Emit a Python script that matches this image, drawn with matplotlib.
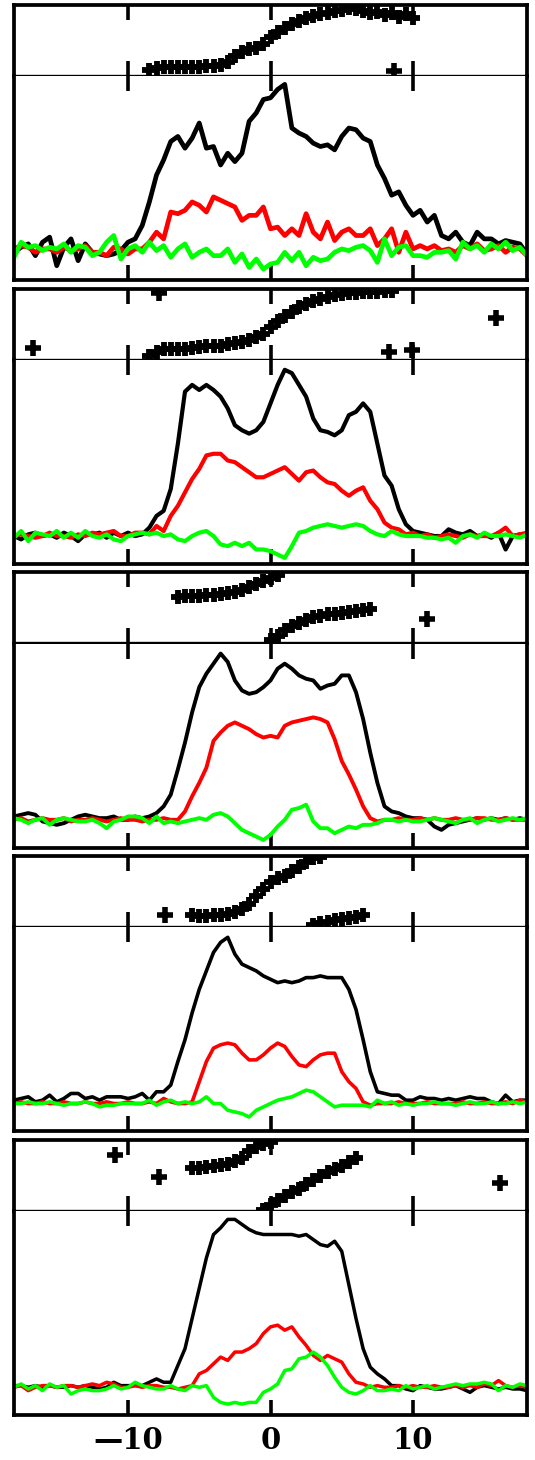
import numpy as np
import matplotlib
matplotlib.use("Agg")
import matplotlib.pyplot as plt

# pulse phase grid (degrees of longitude), 0.5 deg bins
phase = np.arange(-18, 18.25, 0.5)

# normalised total intensity (black), linear (red), circular (green)
I1 = [0.0, 0.03, 0.05, -0.02, 0.06, 0.09, -0.08, 0.03, 0.08, -0.05, 0.05, 0.0,
      -0.01, -0.02, -0.01, 0.01, 0.06, 0.08, 0.16, 0.30,
      0.46, 0.55, 0.66, 0.69, 0.62, 0.68, 0.77, 0.62,
      0.63, 0.52, 0.59, 0.54, 0.59, 0.78, 0.83, 0.91,
      0.92, 0.97, 1.0, 0.74, 0.71, 0.69, 0.65, 0.63,
      0.64, 0.61, 0.69, 0.74, 0.73, 0.68, 0.66, 0.52,
      0.44, 0.34, 0.36, 0.28, 0.22, 0.25, 0.18, 0.22,
      0.10,
      0.08, 0.12, 0.06, 0.04, 0.12, 0.08, 0.08, 0.05, 0.07, 0.06, 0.05, -0.01]
L1 = [0.02, 0.04, 0.03, 0.0, 0.02, 0.02, 0.0, 0.03, 0.01, 0.02, 0.04, 0.0,
      0.0, -0.02, 0.03, 0.02, -0.01, 0.02, 0.02, 0.06,
      0.12, 0.08, 0.24, 0.23, 0.25, 0.30, 0.28, 0.24,
      0.33, 0.31, 0.29, 0.27, 0.19, 0.22, 0.22, 0.27,
      0.14, 0.15, 0.10, 0.14, 0.10, 0.23, 0.12, 0.08,
      0.18, 0.07, 0.12, 0.14, 0.10, 0.10, 0.14, 0.04,
      0.08, 0.14, 0.0, 0.12, 0.02, 0.04, 0.02, 0.04,
      0.01,
      0.02, 0.0, 0.04, 0.02, 0.05, 0.01, 0.02, 0.04, 0.0, 0.03, 0.02, -0.02]
V1 = [-0.03, 0.06, 0.03, 0.04, 0.01, 0.03, 0.02, 0.05, 0.0, 0.04, 0.03, -0.02,
      0.0, 0.06, 0.1, -0.04, 0.02, 0.04, 0.0, 0.06,
      0.01, 0.04, -0.03, 0.02, 0.05, -0.03, 0.0, 0.02,
      -0.02, -0.02, 0.02, -0.06, -0.01, -0.09, -0.04, -0.10,
      -0.07, -0.06, 0.0, -0.05, 0.0, -0.08, -0.03, -0.05,
      -0.04, 0.0, 0.02, 0.01, 0.03, 0.04, 0.01, -0.06,
      0.08, -0.02, 0.03, 0.04, -0.02, -0.02, -0.03, 0.0,
      0.0,
      0.01, -0.04, 0.06, 0.02, 0.04, 0.0, 0.05, 0.02, 0.06, 0.01, 0.03, -0.02]

I2 = [0.0, -0.02, 0.01, 0.02, 0.0, 0.01, -0.01, 0.02, 0.0, -0.03, 0.01, 0.01,
      0.02, -0.01, 0.02, 0.0, 0.02, 0.0, 0.01, 0.05,
      0.12, 0.15, 0.28, 0.55, 0.86, 0.90, 0.87, 0.90,
      0.87, 0.83, 0.76, 0.66, 0.63, 0.61, 0.63, 0.68,
      0.79, 0.90, 0.99, 0.97, 0.90, 0.83, 0.70, 0.63,
      0.62, 0.60, 0.63, 0.72, 0.74, 0.79, 0.74, 0.55,
      0.36, 0.30, 0.16, 0.07, 0.03, 0.02, 0.01, 0.0,
      0.0,
      0.04, 0.02, 0.01, 0.03, 0.0, 0.01, -0.01, 0.02, -0.08, 0.0, 0.01, 0.0]
L2 = [0.0, 0.01, 0.0, -0.01, 0.0, 0.02, 0.0, 0.0, -0.01, 0.01, 0.0, 0.02,
      0.01, 0.02, 0.03, 0.0, 0.0, 0.02, 0.02, 0.01,
      0.06, 0.03, 0.12, 0.18, 0.26, 0.34, 0.40, 0.48,
      0.49, 0.49, 0.45, 0.44, 0.41, 0.38, 0.35, 0.35,
      0.37, 0.39, 0.41, 0.37, 0.33, 0.38, 0.39, 0.35,
      0.32, 0.31, 0.27, 0.24, 0.27, 0.29, 0.21, 0.16,
      0.08, 0.05, 0.04, 0.01, 0.02, 0.0, 0.01, -0.01,
      0.0,
      0.01, 0.0, -0.01, 0.01, 0.0, 0.0, 0.0, 0.02, 0.05, 0.0, 0.01, 0.02]
V2 = [-0.01, 0.03, -0.03, 0.02, 0.01, 0.0, 0.03, -0.01, 0.02, -0.01, 0.03, 0.0,
      -0.01, 0.01, -0.02, -0.03, 0.0, 0.01, 0.02, 0.01,
      0.02, 0.0, 0.01, -0.02, -0.03, 0.0, 0.02, 0.03,
      0.0, -0.05, -0.06, -0.04, -0.06, -0.04, -0.08, -0.08,
      -0.09, -0.11, -0.13, -0.06, 0.02, 0.03, 0.05, 0.06,
      0.07, 0.06, 0.05, 0.06, 0.07, 0.06, 0.03, 0.01,
      0.0, 0.03, 0.01, 0.0, 0.0, 0.0, -0.01, -0.01,
      -0.02,
      -0.01, -0.04, 0.0, 0.01, -0.01, 0.02, 0.0, 0.0, 0.01, 0.0, -0.01, 0.01]

I3 = [0.02, 0.03, 0.04, 0.03, -0.01, -0.02, -0.03, -0.02, 0.0, 0.02, 0.03, 0.02,
      0.01, 0.01, 0.02, 0.0, 0.0, 0.02, 0.01, 0.02,
      0.04, 0.08, 0.15, 0.30, 0.46, 0.64, 0.79, 0.87,
      0.93, 0.99, 0.94, 0.83, 0.77, 0.75, 0.76, 0.79,
      0.83, 0.90, 0.93, 0.90, 0.86, 0.84, 0.83, 0.78,
      0.80, 0.81, 0.86, 0.86, 0.76, 0.60, 0.40, 0.22,
      0.08, 0.05, 0.04, 0.02, 0.01, 0.01, 0.0, -0.04,
      -0.06,
      -0.03, -0.02, -0.01, 0.0, 0.01, 0.0, 0.01, 0.0, 0.01, 0.0, 0.01, 0.0]
L3 = [0.0, 0.01, -0.01, 0.0, 0.01, 0.0, 0.0, 0.01, -0.01, 0.0, 0.0, 0.01,
      0.0, -0.01, 0.0, 0.01, 0.0, 0.0, -0.01, 0.0,
      0.0, 0.01, 0.0, 0.0, 0.05, 0.14, 0.22, 0.31,
      0.47, 0.52, 0.56, 0.58, 0.56, 0.54, 0.51, 0.49,
      0.50, 0.49, 0.56, 0.58, 0.59, 0.60, 0.61, 0.60,
      0.58, 0.48, 0.35, 0.27, 0.18, 0.08, 0.01, -0.01,
      0.0, 0.0, 0.01, 0.0, 0.0, 0.01, 0.0, 0.01,
      0.0,
      0.0, 0.01, 0.0, 0.0, 0.01, 0.01, 0.0, 0.0, 0.01, 0.0, 0.0, 0.0]
V3 = [0.01, 0.0, -0.02, 0.0, 0.01, -0.03, 0.0, 0.01, 0.0, -0.01, -0.01, 0.0,
      -0.02, -0.05, -0.01, 0.0, 0.02, 0.02, 0.01, -0.02,
      0.02, -0.02, -0.01, -0.02, -0.01, 0.0, 0.01, 0.0,
      0.03, 0.04, 0.02, -0.02, -0.06, -0.08, -0.10, -0.12,
      -0.09, -0.04, 0.0, 0.06, 0.07, 0.09, -0.01, -0.05,
      -0.05, -0.08, -0.06, -0.04, -0.05, -0.03, -0.03, -0.02,
      0.0, 0.0, -0.01, 0.0, -0.01, -0.01, 0.0, 0.01,
      0.0,
      -0.01, -0.02, 0.0, 0.01, -0.02, 0.0, 0.01, -0.01, 0.0, 0.01, 0.0, 0.01]

I4 = [0.02, 0.03, 0.04, 0.01, 0.02, 0.05, 0.01, 0.03, 0.06, 0.06, 0.03, 0.04,
      0.02, 0.04, 0.04, 0.04, 0.03, 0.04, 0.06, 0.02,
      0.07, 0.07, 0.11, 0.25, 0.38, 0.54, 0.68, 0.79,
      0.90, 0.96, 0.99, 0.89, 0.83, 0.81, 0.79, 0.76,
      0.74, 0.72, 0.73, 0.72, 0.73, 0.75, 0.75, 0.76,
      0.75, 0.75, 0.75, 0.68, 0.56, 0.38, 0.19, 0.07,
      0.06, 0.05, 0.05, 0.02, 0.02, 0.04, 0.03, 0.03,
      0.02,
      0.03, 0.02, 0.03, 0.04, 0.03, 0.03, 0.01, 0.0, 0.05, 0.01, 0.02, 0.02]
L4 = [0.0, 0.01, 0.0, 0.0, 0.01, 0.0, 0.0, 0.01, 0.0, 0.0, 0.01, 0.0,
      0.0, 0.01, 0.0, 0.0, 0.01, 0.0, 0.0, 0.01,
      0.0, 0.03, 0.01, 0.0, 0.0, 0.01, 0.13, 0.25,
      0.33, 0.35, 0.36, 0.35, 0.30, 0.26, 0.26, 0.29,
      0.33, 0.36, 0.34, 0.28, 0.23, 0.22, 0.26, 0.29,
      0.30, 0.30, 0.19, 0.13, 0.09, 0.01, -0.01, 0.0,
      0.0, 0.0, 0.01, 0.0, 0.0, 0.0, 0.01, 0.0,
      0.0,
      0.0, 0.0, 0.01, 0.0, 0.0, 0.01, 0.0, 0.0, 0.01, 0.0, 0.02, 0.01]
V4 = [0.0, 0.0, 0.01, 0.0, 0.0, 0.01, 0.0, -0.01, 0.0, 0.0, 0.01, 0.0,
      -0.02, -0.01, -0.01, 0.0, 0.0, 0.0, 0.0, 0.02,
      -0.01, 0.01, 0.02, 0.0, 0.01, 0.0, 0.01, 0.04,
      0.0, 0.0, -0.04, -0.05, -0.06, -0.08, -0.04, -0.02,
      0.0, 0.02, 0.03, 0.04, 0.06, 0.08, 0.07, 0.04,
      0.01, -0.02, -0.01, -0.01, -0.01, -0.01, -0.02, 0.02,
      0.0, 0.01, -0.01, 0.0, -0.01, 0.0, 0.0, 0.01,
      0.0,
      0.0, -0.01, 0.0, 0.01, 0.0, 0.0, 0.01, 0.0, 0.0, 0.01, 0.0, 0.01]

I5 = [0.01, 0.01, 0.0, 0.01, 0.0, 0.01, 0.0, 0.0, 0.01, 0.0, 0.01, 0.0,
      -0.01, 0.0, 0.03, 0.01, 0.01, 0.01, 0.01, 0.03,
      0.05, 0.03, 0.03, 0.13, 0.23, 0.41, 0.59, 0.77,
      0.91, 0.95, 1.0, 1.0, 0.97, 0.94, 0.92, 0.91,
      0.91, 0.91, 0.91, 0.91, 0.90, 0.91, 0.88, 0.85,
      0.84, 0.87, 0.81, 0.61, 0.41, 0.23, 0.12, 0.08,
      0.05, 0.01, 0.01, -0.01, -0.02, 0.01, 0.0, -0.01,
      -0.01,
      0.0, 0.01, -0.01, -0.03, 0.0, 0.01, 0.0, -0.01, 0.0, -0.01, -0.01, -0.02]
L5 = [0.0, 0.01, -0.02, 0.0, 0.01, 0.01, 0.0, 0.01, 0.01, 0.0, 0.01, 0.02,
      0.01, 0.03, 0.02, 0.0, 0.0, 0.01, 0.0, 0.01,
      0.01, 0.0, 0.0, -0.01, 0.0, 0.01, 0.08, 0.10,
      0.14, 0.18, 0.16, 0.21, 0.21, 0.23, 0.26, 0.32,
      0.36, 0.37, 0.34, 0.36, 0.30, 0.25, 0.19, 0.16,
      0.19, 0.17, 0.15, 0.08, 0.03, 0.02, 0.0, 0.01,
      0.0, 0.0, 0.01, 0.0, 0.01, 0.0, 0.0, 0.01,
      0.0,
      0.0, 0.01, 0.0, 0.01, 0.0, 0.02, 0.01, 0.04, 0.01, 0.0, 0.01, 0.0]
V5 = [0.0, 0.02, -0.01, 0.01, -0.02, 0.02, 0.0, 0.01, -0.04, -0.02, -0.01, -0.02,
      -0.02, -0.01, 0.01, -0.01, 0.0, 0.03, 0.01, 0.0,
      -0.01, -0.01, 0.01, -0.01, -0.02, 0.01, 0.0, 0.01,
      -0.06, -0.09, -0.10, -0.09, -0.10, -0.09, -0.09, -0.03,
      -0.01, 0.02, 0.10, 0.11, 0.17, 0.18, 0.21, 0.18,
      0.13, 0.06, 0.0, -0.03, -0.04, -0.02, 0.01, -0.02,
      -0.02, -0.01, -0.02, 0.01, -0.01, 0.0, 0.01, -0.01,
      0.0,
      0.01, 0.02, 0.01, 0.02, 0.02, 0.03, 0.02, -0.02, 0.01, 0.0, 0.02, 0.01]

# position angle (deg): well-measured points and low-S/N outliers
pa1_x = [-8.5, -8, -7.5, -7, -6.5, -6, -5.5, -5, -4.5, -4, -3.5, -3, -2.5, -2, -1.5, -1,
         -0.5, 0, 0.5, 1, 1.5, 2, 2.5, 3, 3.5, 4, 4.5, 5, 5.5, 6, 6.5, 7, 7.5, 8, 8.5,
         9, 9.5, 10]
pa1 = [-74, -70, -68, -68, -67, -67, -66, -66, -65, -64, -62, -55, -40, -28, -22, -18,
       -10, 10, 22, 32, 42, 50, 56, 62, 66, 70, 74, 78, 82, 80, 76, 70, 72, 64, 70,
       60, 66, 58]
pa1_out_x = [8.7]
pa1_out = [-78]

pa2_x = [-8.5, -8, -7.5, -7, -6.5, -6, -5.5, -5, -4.5, -4, -3.5, -3, -2.5, -2, -1.5, -1,
         -0.5, 0, 0.5, 1, 1.5, 2, 2.5, 3, 3.5, 4, 4.5, 5, 5.5, 6, 6.5, 7, 7.5, 8, 8.5]
pa2 = [-80, -70, -64, -64, -63, -62, -60, -58, -56, -55, -54, -51, -48, -45, -40, -33,
       -24, -8, 8, 20, 32, 43, 52, 60, 65, 70, 73, 76, 78, 80, 81, 82, 83, 84, 85]
pa2_out_x = [-16.7, -7.8, 8.3, 9.9, 15.8]
pa2_out = [-60, 80, -70, -66, 15]

pa3_x = [-6.5, -6, -5.5, -5, -4.5, -4, -3.5, -3, -2.5, -2, -1.5, -1, -0.5, 0, 0.5,
         0, 0.5, 1, 1.5, 2, 2.5, 3, 3.5, 4, 4.5, 5, 5.5, 6, 6.5, 7]
pa3 = [29, 30, 30, 31, 32, 33, 35, 37, 40, 45, 52, 60, 68, 76, 84,
       -82, -70, -55, -46, -38, -30, -24, -20, -16, -14, -12, -9, -7, -5, -3]
pa3_out_x = [11.0]
pa3_out = [-29]

pa4_x = [-5.5, -5, -4.5, -4, -3.5, -3, -2.5, -2, -1.5, -1, -0.5, 0, 0.5, 1, 1.5, 2,
         2.5, 3, 3.5, 3, 3.5, 4, 4.5, 5, 5.5, 6, 6.5]
pa4 = [-60, -61, -61, -60, -59, -56, -52, -44, -30, -10, 8, 24, 34, 40, 52, 64,
       76, 85, 89, -84, -79, -76, -72, -69, -66, -63, -58]
pa4_out_x = [-7.4]
pa4_out = [-60]

pa5_x = [-5.5, -5, -4.5, -4, -3.5, -3, -2.5, -2, -1.5, -1, -0.5, 0,
         -0.5, 0, 0.5, 1, 1.5, 2, 2.5, 3, 3.5, 4, 4.5, 5, 5.5, 6]
pa5 = [19, 20, 21, 24, 26, 29, 36, 44, 61, 71, 79, 86,
       -88, -74, -62, -52, -43, -33, -22, -12, -2, 8, 16, 25, 34, 44]
pa5_out_x = [-10.9, -7.8, 16.1]
pa5_out = [53, -5, -18]

profiles = [(I1, L1, V1), (I2, L2, V2), (I3, L3, V3), (I4, L4, V4), (I5, L5, V5)]
angles = [(pa1_x, pa1, pa1_out_x, pa1_out), (pa2_x, pa2, pa2_out_x, pa2_out),
          (pa3_x, pa3, pa3_out_x, pa3_out), (pa4_x, pa4, pa4_out_x, pa4_out),
          (pa5_x, pa5, pa5_out_x, pa5_out)]
tick_pos = [-10, 0, 10]
tick_lab = ["\u201410", "0", "10"]
lws = [3.4, 3.0, 2.8, 2.6, 2.5]
pa_ms = [10.5, 10, 9.5, 9.5, 9.5]

W, H = 535.0, 1460.0
x0, x1 = 14, 527

fig = plt.figure(figsize=(W / 100, H / 100), dpi=100)

for k in range(5):
    top = 5 + 283.75 * k
    mid = top + 71
    bot = top + 275
    ax_pa = fig.add_axes([x0 / W, 1 - mid / H, (x1 - x0) / W, (mid - top) / H])
    ax = fig.add_axes([x0 / W, 1 - bot / H, (x1 - x0) / W, (bot - mid) / H])

    # polarisation position angle
    px, pv, ox, ov = angles[k]
    ax_pa.plot(px, pv, '+', color='k', ms=pa_ms[k], mew=4.2)
    ax_pa.plot(ox, ov, '+', color='k', ms=12, mew=4.0)
    ax_pa.set_ylim(-90, 90)

    # profiles
    I, L, V = profiles[k]
    ax.plot(phase, I, color='k', lw=lws[k])
    ax.plot(phase, L, color='#ff0000', lw=lws[k])
    ax.plot(phase, V, color='#00ff00', lw=lws[k])
    ax.set_ylim(-0.165, 1.05)

    for a in (ax_pa, ax):
        a.set_xlim(-18, 18)
        a.set_yticks([])
        a.set_xticks(tick_pos)
        a.tick_params(axis='x', direction='in', top=True, bottom=True,
                      length=11, width=2.6, color='k', labelbottom=False)
        for s in ('left', 'right', 'top', 'bottom'):
            a.spines[s].set_linewidth(2.7)
    ax_pa.spines['bottom'].set_linewidth(1.7)
    ax.spines['top'].set_visible(False)

    if k == 4:
        ax.set_xticklabels(tick_lab)
        ax.tick_params(axis='x', labelbottom=True, pad=8, labelsize=21)
        for t in ax.get_xticklabels():
            t.set_family(['DejaVu Serif', 'DejaVu Sans'])
            t.set_fontweight('bold')

fig.savefig('out.png', dpi=100)
